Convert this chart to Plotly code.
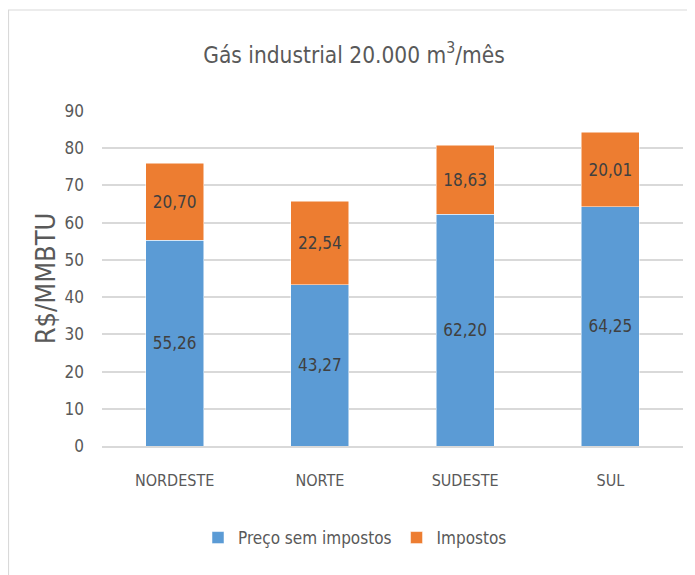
import plotly.graph_objects as go

categories = ["NORDESTE", "NORTE", "SUDESTE", "SUL"]
preco_sem_impostos = [55.26, 43.27, 62.20, 64.25]
impostos = [20.70, 22.54, 18.63, 20.01]
y_ticks = [0, 10, 20, 30, 40, 50, 60, 70, 80, 90]

FONT = "DejaVu Sans Condensed, Liberation Sans Narrow, sans-serif"
TXT = "#595959"

# page has an 8px body margin, so the figure is drawn 8px smaller
W, H = 687, 567
ML, MR, MT, MB = 94, 12, 103, 129
PW, PH = W - ML - MR, H - MT - MB

fig = go.Figure()
fig.add_trace(go.Bar(
    x=categories, y=preco_sem_impostos, name="Preço sem impostos",
    marker=dict(color="#5B9BD5", line=dict(color="#FFFFFF", width=0.5)),
    texttemplate="%{y:.2f}", textposition="inside", insidetextanchor="middle",
    textfont=dict(family=FONT, size=17, color="#404040"),
))
fig.add_trace(go.Bar(
    x=categories, y=impostos, name="Impostos",
    marker=dict(color="#ED7D31", line=dict(color="#FFFFFF", width=0.5)),
    texttemplate="%{y:.2f}", textposition="inside", insidetextanchor="middle",
    textfont=dict(family=FONT, size=17, color="#404040"),
))

fig.update_layout(
    barmode="stack",
    bargap=0.6,
    separators=",.",
    width=W, height=H,
    margin=dict(l=ML, r=MR, t=MT, b=MB),
    paper_bgcolor="white", plot_bgcolor="white",
    font=dict(family=FONT, color=TXT, size=17),
    title=dict(text="Gás industrial 20.000 m<sup>3</sup>/mês", x=346 / W, xanchor="center",
               y=1 - 47 / H, yanchor="middle", font=dict(family=FONT, size=22.5, color=TXT)),
    xaxis=dict(showgrid=False, showline=True, linecolor="#D9D9D9", linewidth=1.5,
               ticks="", tickfont=dict(size=16, color=TXT), ticklabelstandoff=19),
    yaxis=dict(range=[0, 90], tickvals=y_ticks, showgrid=True, gridcolor="#D9D9D9", gridwidth=1.5,
               zeroline=False, ticks="", tickfont=dict(size=17, color=TXT), ticklabelstandoff=17,
               title=dict(text="R$/MMBTU", font=dict(size=27, color=TXT), standoff=1)),
    legend=dict(orientation="h", traceorder="normal", x=(347 - ML) / PW, xanchor="center",
                y=(MT + PH - 530) / PH, yanchor="middle",
                font=dict(size=17, color=TXT), itemwidth=30),
    shapes=[dict(type="rect", xref="paper", yref="paper",
                 x0=(0.5 - ML) / PW, x1=1.2, y0=-0.6, y1=(MT + PH - 2) / PH,
                 line=dict(color="#D9D9D9", width=1.2), layer="below")],
)

fig.write_html("out.html")
